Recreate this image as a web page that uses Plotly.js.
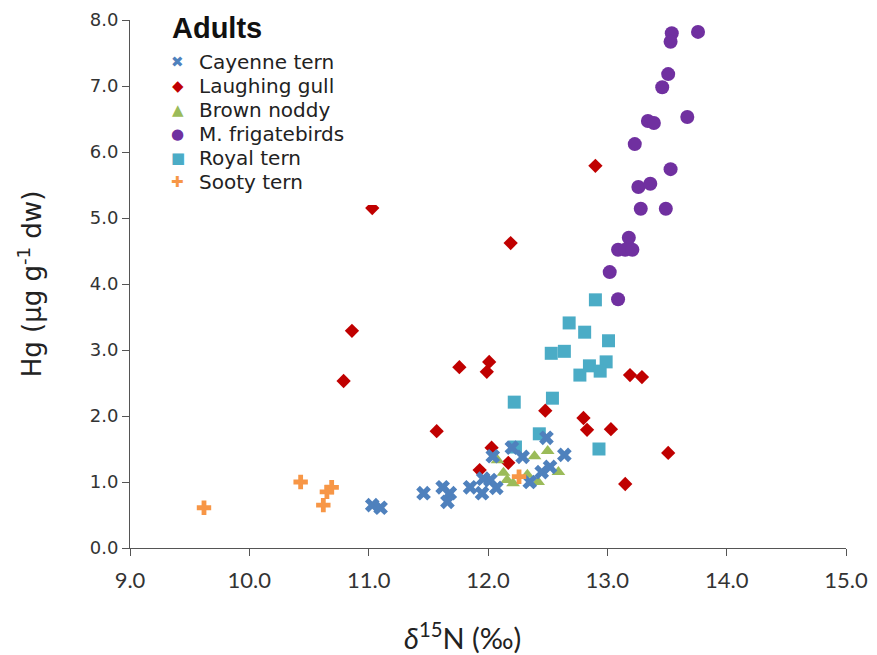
<!DOCTYPE html>
<html>
<head>
<meta charset="utf-8">
<script src="https://cdn.plot.ly/plotly-3.0.1.min.js"></script>
<style>html,body{margin:0;padding:0;background:#fff}#chart{width:877px;height:655px}</style>
</head>
<body>
<div id="chart"></div>
<script>
// Cayenne tern
const cayenneX = [11.03, 11.10, 11.46, 11.62, 11.68, 11.66, 11.85, 11.95, 12.02, 12.07, 12.04, 12.20, 12.29, 12.35, 12.45, 12.52, 12.49, 12.64, 11.96];
const cayenneY = [0.65, 0.61, 0.83, 0.92, 0.83, 0.70, 0.92, 0.83, 1.03, 0.91, 1.39, 1.52, 1.38, 1.00, 1.15, 1.23, 1.67, 1.41, 1.05];
// Laughing gull
const gullX = [11.03, 10.86, 10.79, 11.76, 12.01, 11.99, 12.19, 12.90, 11.57, 12.03, 12.17, 11.93, 12.48, 12.80, 12.83, 13.03, 13.19, 13.29, 13.51, 13.15];
const gullY = [5.15, 3.29, 2.53, 2.74, 2.82, 2.67, 4.62, 5.79, 1.77, 1.52, 1.29, 1.18, 2.08, 1.97, 1.79, 1.80, 2.62, 2.59, 1.44, 0.97];
// Brown noddy
const noddyX = [12.08, 12.39, 12.50, 12.13, 12.16, 12.21, 12.42, 12.59, 12.33];
const noddyY = [1.33, 1.39, 1.47, 1.14, 1.03, 0.98, 1.00, 1.15, 1.11];
// M. frigatebirds
const frigX = [13.54, 13.53, 13.76, 13.51, 13.46, 13.67, 13.34, 13.39, 13.23, 13.53, 13.26, 13.36, 13.28, 13.49, 13.18, 13.09, 13.15, 13.21, 13.02, 13.09];
const frigY = [7.80, 7.67, 7.82, 7.18, 6.98, 6.53, 6.47, 6.44, 6.12, 5.74, 5.47, 5.52, 5.14, 5.14, 4.70, 4.52, 4.52, 4.52, 4.18, 3.77];
// Royal tern
const royalX = [12.90, 12.68, 12.81, 13.01, 12.53, 12.64, 12.85, 12.99, 12.77, 12.94, 12.22, 12.54, 12.43, 12.93, 12.23];
const royalY = [3.76, 3.41, 3.27, 3.14, 2.95, 2.98, 2.76, 2.82, 2.62, 2.68, 2.21, 2.27, 1.73, 1.50, 1.53];
// Sooty tern
const sootyX = [9.62, 10.43, 10.65, 10.69, 10.62, 12.26];
const sootyY = [0.61, 1.00, 0.85, 0.92, 0.65, 1.08];

const xTicks = [9, 10, 11, 12, 13, 14, 15];
const yTicks = [0, 1, 2, 3, 4, 5, 6, 7, 8];

// Legend (drawn as text, in legend order)
const legendTitle = 'Adults';
const legendNames = ['Cayenne tern', 'Laughing gull', 'Brown noddy', 'M. frigatebirds', 'Royal tern', 'Sooty tern'];
const legendGlyphs = ['\u2716', '\u25C6', '\u25B2', '\u25CF', '\u25A0', '\u271A'];
const legendColors = ['#4F81BD', '#C00000', '#9BBB59', '#7030A0', '#4BACC6', '#F79646'];

function tr(name, x, y, symbol, size, color) {
  return {type: 'scatter', mode: 'markers', name: name, x: x, y: y, showlegend: false,
    marker: {symbol: symbol, size: size, color: color, line: {width: 0}}};
}

const data = [
  tr('Royal tern', royalX, royalY, 'square', 13, legendColors[4]),
  tr('Laughing gull', gullX, gullY, 'diamond', 11, legendColors[1]),
  tr('Brown noddy', noddyX, noddyY, 'triangle-up', 12, legendColors[2]),
  tr('Cayenne tern', cayenneX, cayenneY, 'x', 13, legendColors[0]),
  tr('M. frigatebirds', frigX, frigY, 'circle', 14, legendColors[3]),
  tr('Sooty tern', sootyX, sootyY, 'cross', 12, legendColors[5])
];

// plot area in pixels: left 130, width 716.5, top 20, height 528
const L = 130, W = 716.5, T = 20, H = 528;
const px = v => (v - L) / W;
const py = v => (T + H - v) / H;

const annotations = [];
annotations.push({xref: 'paper', yref: 'paper', x: px(170), y: py(28), xanchor: 'left', yanchor: 'middle',
  showarrow: false, text: '<b>' + legendTitle + '</b>',
  font: {family: 'Liberation Sans, Arial, sans-serif', size: 29, color: '#111'}});
const rowStart = 62.5, rowStep = 23.8;
legendNames.forEach((n, i) => {
  const yy = rowStart + i * rowStep;
  annotations.push({xref: 'paper', yref: 'paper', x: px(178), y: py(yy), xanchor: 'center', yanchor: 'middle',
    showarrow: false, text: legendGlyphs[i],
    font: {family: 'DejaVu Sans, sans-serif', size: 15, color: legendColors[i]}});
  annotations.push({xref: 'paper', yref: 'paper', x: px(197), y: py(yy), xanchor: 'left', yanchor: 'middle',
    showarrow: false, text: n,
    font: {family: 'DejaVu Sans, sans-serif', size: 20, color: '#222'}});
});
// x-axis title
annotations.push({xref: 'paper', yref: 'paper', x: px(463), y: py(636), xanchor: 'center', yanchor: 'middle',
  showarrow: false, text: '<i>δ</i><sup>15</sup>N (‰)',
  font: {family: 'Lato, Liberation Sans, sans-serif', size: 29, color: '#222'}});

const layout = {
  width: 877, height: 655,
  margin: {l: 130, r: 30.5, t: 20, b: 107},
  paper_bgcolor: '#fff', plot_bgcolor: '#fff',
  showlegend: false,
  shapes: [{type: 'rect', xref: 'paper', yref: 'paper', layer: 'above',
    x0: px(155), x1: px(385), y0: py(205), y1: py(10),
    fillcolor: '#ffffff', line: {width: 0}}],
  annotations: annotations,
  xaxis: {
    range: [9, 15], tickvals: xTicks, tickformat: '.1f',
    showgrid: false, zeroline: false, showline: true, linecolor: '#555', linewidth: 1,
    ticks: 'outside', ticklen: 7, tickcolor: '#555', ticklabelstandoff: 6,
    tickfont: {family: 'Lato, Liberation Sans, sans-serif', size: 22, color: '#333'}
  },
  yaxis: {
    range: [0, 8], tickvals: yTicks, tickformat: '.1f',
    showgrid: false, zeroline: false, showline: true, linecolor: '#555', linewidth: 1,
    ticks: 'outside', ticklen: 7, tickcolor: '#555',
    tickfont: {family: 'DejaVu Sans, Verdana, sans-serif', size: 18, color: '#333'},
    title: {text: 'Hg (µg g<sup>-1</sup> dw)', font: {family: 'DejaVu Sans, sans-serif', size: 26, color: '#222'}, standoff: 40}
  }
};

Plotly.newPlot('chart', data, layout, {staticPlot: true, displayModeBar: false});
</script>
</body>
</html>
